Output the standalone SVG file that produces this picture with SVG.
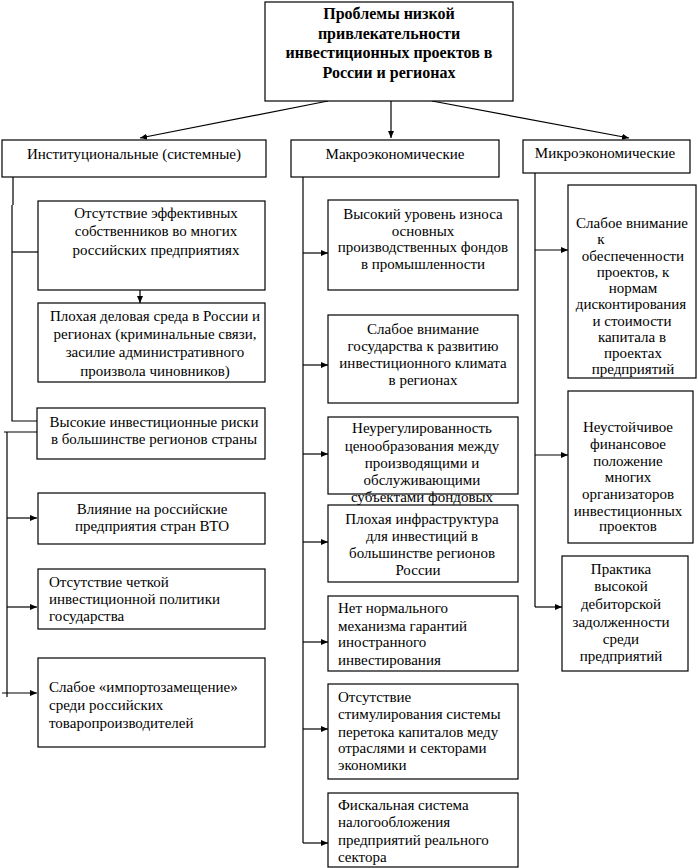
<svg xmlns="http://www.w3.org/2000/svg" width="698" height="868" viewBox="0 0 698 868">
<defs>
<marker id="ah" markerWidth="8" markerHeight="7" refX="7" refY="3" orient="auto" markerUnits="userSpaceOnUse">
<path d="M0,0 L7,3 L0,6 z" fill="#000"/>
</marker>
<style>
.box{fill:#fff;stroke:#000;stroke-width:1.2}
.t{font-family:"Liberation Serif","Times New Roman",serif;font-size:15px;fill:#000}
.b{font-weight:bold;font-size:16px}
.c{text-anchor:middle}
.ln{stroke:#000;stroke-width:1.2;fill:none}
.ar{stroke:#000;stroke-width:1.2;fill:none;marker-end:url(#ah)}
</style>
</defs>
<rect width="698" height="868" fill="#fff"/>
<g id="connectors">
<path class="ar" d="M328,101 L140,138"/>
<path class="ar" d="M391,101 L391,138"/>
<path class="ar" d="M432,101 L629,138"/>
<path class="ln" d="M13,177 V205 M12,205 V421 H37"/>
<path class="ln" d="M12,252 H39"/>
<path class="ar" d="M140,290 V303"/>
<path class="ln" d="M4,432 H37"/>
<path class="ln" d="M7,432 V697"/>
<path class="ar" d="M7,518 H37"/>
<path class="ar" d="M7,607 H37"/>
<path class="ar" d="M2,693 H37"/>
<path class="ln" d="M303,177 V843"/>
<path class="ar" d="M303,253 H328"/>
<path class="ar" d="M303,365 H328"/>
<path class="ar" d="M303,454 H328"/>
<path class="ar" d="M303,542 H328"/>
<path class="ar" d="M303,642 H328"/>
<path class="ar" d="M303,729 H328"/>
<path class="ar" d="M303,843 H328"/>
<path class="ln" d="M535,173 V607"/>
<path class="ar" d="M535,250 H568"/>
<path class="ar" d="M535,455 H568"/>
<path class="ar" d="M535,607 H562"/>
</g>
<g id="root">
<rect class="box" x="265" y="2" width="248" height="99"/>
<text class="t b c" x="389" y="19">Проблемы низкой</text>
<text class="t b c" x="389" y="38.5">привлекательности</text>
<text class="t b c" x="389" y="58">инвестиционных проектов в</text>
<text class="t b c" x="389" y="77.5">России и регионах</text>
</g>
<g id="cat-inst">
<rect class="box" x="2" y="140" width="264" height="37"/>
<text class="t c" x="134" y="159">Институциональные (системные)</text>
</g>
<g id="cat-macro">
<rect class="box" x="291" y="140" width="208" height="37"/>
<text class="t c" x="395" y="159">Макроэкономические</text>
</g>
<g id="cat-micro">
<rect class="box" x="523" y="140" width="167" height="33"/>
<text class="t c" x="605" y="158">Микроэкономические</text>
</g>
<g id="i1">
<rect class="box" x="38" y="201" width="227" height="89"/>
<text class="t c" x="156" y="218">Отсутствие эффективных</text>
<text class="t c" x="156" y="236">собственников во многих</text>
<text class="t c" x="156" y="255">российских предприятиях</text>
</g>
<g id="i2">
<rect class="box" x="38" y="303" width="227" height="79"/>
<text class="t c" x="155" y="321">Плохая деловая среда в России и</text>
<text class="t c" x="155" y="339">регионах (криминальные связи,</text>
<text class="t c" x="155" y="357">засилие административного</text>
<text class="t c" x="155" y="376">произвола чиновников)</text>
</g>
<g id="i3">
<rect class="box" x="37" y="408" width="228" height="51"/>
<text class="t c" x="154" y="427">Высокие инвестиционные риски</text>
<text class="t c" x="154" y="444">в большинстве регионов страны</text>
</g>
<g id="i4">
<rect class="box" x="38" y="493" width="227" height="51"/>
<text class="t c" x="152" y="514">Влияние на российские</text>
<text class="t c" x="152" y="531">предприятия стран ВТО</text>
</g>
<g id="i5">
<rect class="box" x="38" y="569" width="227" height="60"/>
<text class="t" x="49" y="587">Отсутствие четкой</text>
<text class="t" x="49" y="604">инвестиционной политики</text>
<text class="t" x="49" y="621">государства</text>
</g>
<g id="i6">
<rect class="box" x="38" y="658" width="227" height="89"/>
<text class="t" x="49" y="692">Слабое «импортозамещение»</text>
<text class="t" x="49" y="710">среди российских</text>
<text class="t" x="49" y="728">товаропроизводителей</text>
</g>
<g id="m1">
<rect class="box" x="328" y="200" width="190" height="90"/>
<text class="t c" x="423" y="219">Высокий уровень износа</text>
<text class="t c" x="423" y="236">основных</text>
<text class="t c" x="423" y="252">производственных фондов</text>
<text class="t c" x="423" y="269">в промышленности</text>
</g>
<g id="m2">
<rect class="box" x="328" y="315" width="190" height="88"/>
<text class="t c" x="423" y="334">Слабое внимание</text>
<text class="t c" x="423" y="351">государства к развитию</text>
<text class="t c" x="423" y="368">инвестиционного климата</text>
<text class="t c" x="423" y="385">в регионах</text>
</g>
<g id="m3">
<rect class="box" x="328" y="417" width="190" height="77"/>
<text class="t c" x="422" y="433">Неурегулированность</text>
<text class="t c" x="422" y="451">ценообразования между</text>
<text class="t c" x="422" y="468">производящими и</text>
<text class="t c" x="422" y="485">обслуживающими</text>
<text class="t c" x="422" y="502">субъектами фондовых</text>
</g>
<g id="m4">
<rect class="box" x="328" y="505" width="190" height="77"/>
<text class="t c" x="422" y="524">Плохая инфраструктура</text>
<text class="t c" x="422" y="541">для инвестиций в</text>
<text class="t c" x="422" y="558">большинстве регионов</text>
<text class="t c" x="418" y="575">России</text>
</g>
<g id="m5">
<rect class="box" x="328" y="596" width="190" height="75"/>
<text class="t" x="338" y="613">Нет нормального</text>
<text class="t" x="338" y="631">механизма гарантий</text>
<text class="t" x="338" y="647">иностранного</text>
<text class="t" x="338" y="665">инвестирования</text>
</g>
<g id="m6">
<rect class="box" x="328" y="684" width="190" height="95"/>
<text class="t" x="338" y="702">Отсутствие</text>
<text class="t" x="338" y="719">стимулирования системы</text>
<text class="t" x="338" y="737">перетока капиталов меду</text>
<text class="t" x="338" y="753">отраслями и секторами</text>
<text class="t" x="338" y="770">экономики</text>
</g>
<g id="m7">
<rect class="box" x="328" y="793" width="190" height="74"/>
<text class="t" x="338" y="810">Фискальная система</text>
<text class="t" x="338" y="827">налогообложения</text>
<text class="t" x="338" y="845">предприятий реального</text>
<text class="t" x="338" y="862">сектора</text>
</g>
<g id="r1">
<rect class="box" x="568" y="185" width="128" height="193"/>
<text class="t c" x="632" y="228">Слабое внимание</text>
<text class="t c" x="601" y="244">к</text>
<text class="t c" x="633" y="260.5">обеспеченности</text>
<text class="t c" x="633" y="277">проектов, к</text>
<text class="t c" x="633" y="293">нормам</text>
<text class="t c" x="631" y="309">дисконтирования</text>
<text class="t c" x="632" y="325.5">и стоимости</text>
<text class="t c" x="632" y="341.5">капитала в</text>
<text class="t c" x="633" y="358">проектах</text>
<text class="t c" x="633" y="373.5">предприятий</text>
</g>
<g id="r2">
<rect class="box" x="568" y="391" width="125" height="152"/>
<text class="t c" x="628" y="432">Неустойчивое</text>
<text class="t c" x="628" y="449">финансовое</text>
<text class="t c" x="628" y="466">положение</text>
<text class="t c" x="628" y="482">многих</text>
<text class="t c" x="628" y="499">организаторов</text>
<text class="t c" x="628" y="516">инвестиционных</text>
<text class="t c" x="628" y="531">проектов</text>
</g>
<g id="r3">
<rect class="box" x="562" y="556" width="126" height="115"/>
<text class="t c" x="621" y="574">Практика</text>
<text class="t c" x="621" y="591">высокой</text>
<text class="t c" x="621" y="609">дебиторской</text>
<text class="t c" x="621" y="627">задолженности</text>
<text class="t c" x="621" y="644">среди</text>
<text class="t c" x="621" y="661">предприятий</text>
</g>
</svg>
